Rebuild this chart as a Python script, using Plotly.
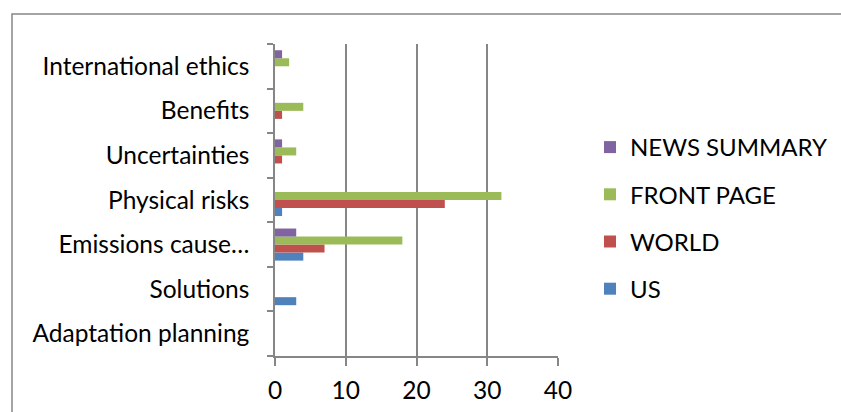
import plotly.graph_objects as go

categories = ["Adaptation planning", "Solutions", "Emissions cause…", "Physical risks",
              "Uncertainties", "Benefits", "International ethics"]
us = [0, 3, 4, 1, 0, 0, 0]
world = [0, 0, 7, 24, 1, 1, 0]
front_page = [0, 0, 18, 32, 3, 4, 2]
news_summary = [0, 0, 3, 0, 1, 0, 1]

series = [("US", us, "#4F81BD"), ("WORLD", world, "#C0504D"),
          ("FRONT PAGE", front_page, "#9BBB59"), ("NEWS SUMMARY", news_summary, "#8064A2")]

fig = go.Figure()
for i, (name, vals, col) in enumerate(series):
    fig.add_trace(go.Bar(y=categories, x=vals, name=name, orientation="h", legendgroup=name,
                         legendrank=1000 - i,
                         marker=dict(color=col, line=dict(width=0))))

W, H = 841, 412
L, R, T, B = 275, 283, 44, 56
pw, ph = W - L - R, H - T - B

def px(x):
    return (x - L) / pw

def py(y):
    return 1 - (y - T) / ph

FS = 24.5
fig.update_layout(
    width=W, height=H,
    margin=dict(l=L, r=R, t=T, b=B, pad=0, autoexpand=False),
    paper_bgcolor="white", plot_bgcolor="white",
    barmode="group", bargap=0.28, bargroupgap=0,
    font=dict(family="Lato, Carlito, sans-serif", size=FS, color="black"),
    legend=dict(traceorder="grouped", x=px(590), y=py(218), xanchor="left", yanchor="middle",
                font=dict(size=24), itemwidth=30, tracegroupgap=13,
                bgcolor="rgba(0,0,0,0)"),
    xaxis=dict(range=[0, 40], dtick=10, showgrid=True, gridcolor="#868686", gridwidth=1.5,
               zeroline=False, showline=True, linecolor="#868686", linewidth=1.5,
               ticks="outside", ticklen=8, tickcolor="#868686", tickwidth=1.5,
               ticklabelstandoff=4, fixedrange=True),
    yaxis=dict(type="category", categoryorder="array", categoryarray=categories,
               showline=True, linecolor="#868686", linewidth=1.5,
               ticks="outside", ticklen=6, tickcolor="#868686", tickwidth=1.5,
               tickson="boundaries", showgrid=False, ticklabelstandoff=19, fixedrange=True),
    shapes=[dict(type="rect", xref="paper", yref="paper",
                 x0=px(12), x1=px(W + 20), y0=py(H + 20), y1=py(14),
                 line=dict(color="#868686", width=1.5), fillcolor="rgba(0,0,0,0)", layer="below")],
)

fig.write_html("out.html")
